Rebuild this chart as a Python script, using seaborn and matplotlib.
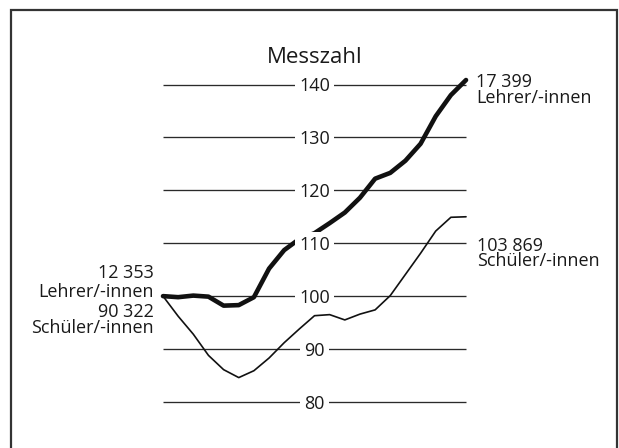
import matplotlib
matplotlib.use("Agg")
import matplotlib.pyplot as plt
from matplotlib.patches import Rectangle
import seaborn as sns
import pandas as pd

# --- data -------------------------------------------------------------
jahre = [1992, 1993, 1994, 1995, 1996, 1997, 1998, 1999, 2000, 2001, 2002,
         2003, 2004, 2005, 2006, 2007, 2008, 2009, 2010, 2011, 2012]
lehrer = [100.0, 99.8, 100.1, 99.9, 98.2, 98.3, 99.8, 105.2, 108.7, 110.8, 111.9,
          113.8, 115.8, 118.6, 122.2, 123.3, 125.6, 128.8, 134.0, 138.0, 140.85]
schueler = [100.0, 96.2, 92.8, 88.8, 86.1, 84.6, 85.9, 88.3, 91.2, 93.8, 96.3,
            96.5, 95.5, 96.6, 97.4, 100.1, 104.1, 108.1, 112.3, 114.9, 115.0]
yticks = [80, 90, 100, 110, 120, 130, 140]
titel = "Messzahl"
start_lehrer = "12 353\nLehrer/-innen"
start_schueler = "90 322\nSchüler/-innen"
end_lehrer = "17 399\nLehrer/-innen"
end_schueler = "103 869\nSchüler/-innen"

df = pd.DataFrame({"jahr": jahre, "lehrer": lehrer, "schueler": schueler})

# --- style -------------------------------------------------------------
sns.set_theme(style="white")
plt.rcParams["font.family"] = ["Open Sans", "DejaVu Sans"]
FS = 13
TXT = "#1a1a1a"

fig = plt.figure(figsize=(6.19, 4.48), dpi=100)
ax = fig.add_axes([0.2511, 0.0438, 0.514, 0.8266])
ax.set_xlim(1991.5, 2012.5)
ax.set_ylim(75, 145)

# outer frame (bottom edge lies outside the picture)
fig.patches.append(Rectangle((11 / 619, -0.05), (617 - 11) / 619, 1 - 10 / 448 + 0.05,
                             transform=fig.transFigure, fill=False,
                             edgecolor="#333333", linewidth=1.6, zorder=0))

# grid lines
ax.hlines(yticks, jahre[0], jahre[-1], color="#2a2a2a", linewidth=0.95, zorder=1)

# series
sns.lineplot(data=df, x="jahr", y="schueler", ax=ax, color="#111111",
             linewidth=1.2, zorder=2, legend=False)
sns.lineplot(data=df, x="jahr", y="lehrer", ax=ax, color="#111111",
             linewidth=3.3, zorder=3, legend=False,
             solid_capstyle="round", solid_joinstyle="round")
ax.axis("off")

# tick labels in the middle of the grid lines
xmid = (jahre[0] + jahre[-1]) / 2
for v in yticks:
    ax.text(xmid, v - 1.3, str(v), ha="center", va="baseline", fontsize=FS,
            color=TXT, zorder=5,
            bbox=dict(boxstyle="square,pad=0.22", fc="white", ec="none"))

# title
ax.text(xmid, 144.0, titel, ha="center", va="baseline", fontsize=16, color=TXT)

# end labels (right); y = baseline of the last line
xr = jahre[-1] + 0.66
ax.text(xr, 136.5, end_lehrer, ha="left", va="baseline", fontsize=FS,
        color=TXT, linespacing=0.85)
ax.text(xr + 0.07, 105.7, end_schueler, ha="left", va="baseline", fontsize=FS,
        color=TXT, linespacing=0.78)

# start labels (left)
xl = jahre[0] - 0.59
ax.text(xl, 99.9, start_lehrer, ha="right", va="baseline", fontsize=FS,
        color=TXT, linespacing=1.02)
ax.text(xl, 93.0, start_schueler, ha="right", va="baseline", fontsize=FS,
        color=TXT, linespacing=0.88)

fig.savefig("out.png", dpi=100, facecolor="white")
